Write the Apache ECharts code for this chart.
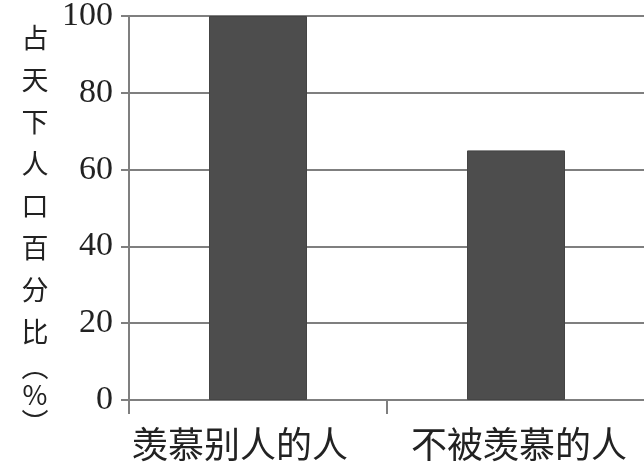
<!DOCTYPE html>
<html>
<head>
<meta charset="utf-8">
<style>html,body{margin:0;padding:0;background:#fff;}#c{width:644px;height:469px;}</style>
<script src="https://cdn.jsdelivr.net/npm/echarts@6/dist/echarts.min.js"></script>
</head>
<body>
<div id="c"></div>
<script>
var categories = ['羡慕别人的人', '不被羡慕的人'];
var values = [100, 65];
var yTicks = [0, 20, 40, 60, 80, 100];
var yNameChars = ['占', '天', '下', '人', '口', '百', '分', '比'];
var yNameUnit = ['︵', '%', '︶'];

var nameText = yNameChars.map(function (c) { return '{a|' + c + '}'; })
  .concat(yNameUnit.map(function (c) { return '{b|' + c + '}'; })).join('\n');

var labelPads = [[0, 36, 0, 0], [0, 0, 0, 6]];
var xData = categories.map(function (c, i) {
  return {value: c, textStyle: {padding: labelPads[i]}};
});

var chart = echarts.init(document.getElementById('c'), null, {renderer: 'canvas'});
chart.setOption({
  animation: false,
  grid: {left: 129, right: -1, top: 16, bottom: 69, containLabel: false, outerBoundsMode: 'none'},
  graphic: [{
    type: 'text',
    x: 35,
    y: 17,
    style: {
      text: nameText,
      align: 'center',
      verticalAlign: 'top',
      fill: '#222',
      rich: {
        a: {fontSize: 27, lineHeight: 42, fill: '#222', align: 'center',
          fontFamily: '"Noto Sans CJK SC", serif'},
        b: {fontSize: 27, lineHeight: 28, fill: '#222', align: 'center',
          fontFamily: '"Noto Sans CJK SC", serif'}
      }
    }
  }],
  xAxis: {
    type: 'category',
    data: xData,
    axisLine: {lineStyle: {color: '#7f7f7f', width: 2}},
    axisTick: {show: true, interval: 0, length: 14, lineStyle: {color: '#7f7f7f', width: 2}},
    axisLabel: {interval: 0, hideOverlap: false, color: '#222', fontSize: 36, margin: 26,
      fontFamily: '"Noto Sans CJK SC", "Liberation Serif", serif'}
  },
  yAxis: {
    type: 'value',
    min: yTicks[0], max: yTicks[yTicks.length - 1], interval: 20,
    axisLine: {show: true, lineStyle: {color: '#7f7f7f', width: 2}},
    axisTick: {show: true, length: 8, lineStyle: {color: '#7f7f7f', width: 2}},
    axisLabel: {color: '#222', fontSize: 34, margin: 16,
      fontFamily: '"Liberation Serif", "Times New Roman", serif'},
    splitLine: {show: true, lineStyle: {color: '#7f7f7f', width: 2}}
  },
  series: [{
    type: 'bar',
    data: values,
    barWidth: 98,
    itemStyle: {color: '#4d4d4d', borderColor: '#444', borderWidth: 1}
  }]
});
</script>
</body>
</html>
